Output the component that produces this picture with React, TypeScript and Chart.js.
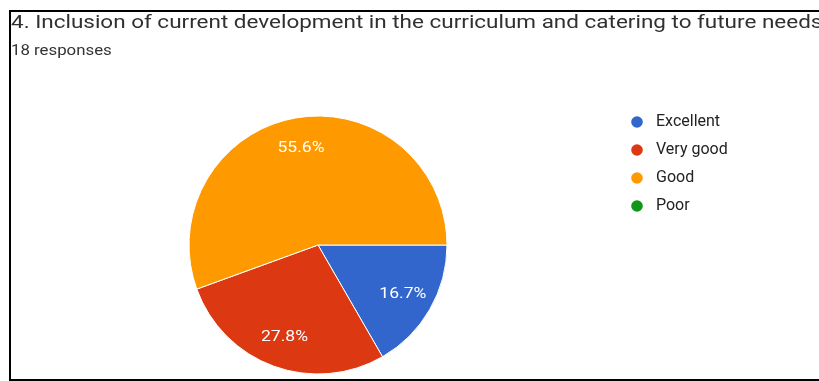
import React, { useEffect, useRef } from 'react';
import { Chart, registerables } from 'chart.js';

Chart.register(...registerables);

const titleText = '4. Inclusion of current development in the curriculum and catering to future needs';
const subtitleText = '18 responses';
const categories = ['Excellent', 'Very good', 'Good', 'Poor'];
const responses = [3, 5, 10, 0];
const sliceColors = ['#3366cc', '#dc3912', '#ff9900', '#109618'];

const CANVAS_W = 808;
const CANVAS_H = 376;
const LEGEND_FONT = 16;
const LEGEND_PAD = 12;
const LEGEND_BOX = 22;
const LEGEND_LEFT = 603;

function makeDot(color: string) {
  const c = document.createElement('canvas');
  c.width = 12;
  c.height = 12;
  const g = c.getContext('2d')!;
  g.fillStyle = color;
  g.beginPath();
  g.arc(6, 6, 5.8, 0, Math.PI * 2);
  g.fill();
  return c;
}

const pctLabels = {
  id: 'pctLabels',
  afterDatasetsDraw(chart: any) {
    const ctx = chart.ctx;
    const meta = chart.getDatasetMeta(0);
    const data = chart.data.datasets[0].data as number[];
    const total = data.reduce((a, b) => a + b, 0);
    meta.data.forEach((arc: any, i: number) => {
      const v = data[i];
      if (!v) return;
      const p = arc.getProps(['startAngle', 'endAngle', 'outerRadius', 'x', 'y'], true);
      const mid = (p.startAngle + p.endAngle) / 2;
      const r = p.outerRadius * 0.76;
      const lx = p.x + Math.cos(mid) * r;
      const ly = p.y + Math.sin(mid) * r;
      ctx.save();
      ctx.translate(lx, ly);
      ctx.scale(1.17, 1);
      ctx.font = '15px Roboto';
      ctx.fillStyle = '#ffffff';
      ctx.textAlign = 'center';
      ctx.textBaseline = 'middle';
      ctx.fillText((v / total * 100).toFixed(1) + '%', 0, 0);
      ctx.restore();
    });
  },
};

export default function App() {
  const ref = useRef<HTMLCanvasElement>(null);

  useEffect(() => {
    const dots = sliceColors.map(makeDot);
    const mctx = document.createElement('canvas').getContext('2d')!;
    mctx.font = `${LEGEND_FONT}px Roboto`;
    const textW = Math.max(...categories.map((c) => mctx.measureText(c).width));
    const legendW = LEGEND_PAD + LEGEND_BOX + LEGEND_FONT / 2 + textW + 10;
    const padRight = CANVAS_W - LEGEND_LEFT - legendW;

    const chart = new Chart(ref.current!, {
      type: 'pie',
      data: {
        labels: categories,
        datasets: [
          {
            data: responses,
            backgroundColor: sliceColors,
            borderColor: '#ffffff',
            borderWidth: 1,
            radius: 129,
          } as any,
        ],
      },
      options: {
        responsive: false,
        animation: false,
        rotation: 90,
        layout: { padding: { top: 90, left: 11, right: padRight, bottom: 0 } },
        plugins: {
          tooltip: { enabled: false },
          legend: {
            position: 'right',
            align: 'start',
            labels: {
              usePointStyle: true,
              pointStyleWidth: LEGEND_BOX,
              padding: LEGEND_PAD,
              color: '#222222',
              font: { family: 'Roboto', size: LEGEND_FONT },
              generateLabels: (c: any) => {
                const base = (Chart as any).overrides.pie.plugins.legend.labels.generateLabels(c);
                return base.map((it: any, i: number) => ({ ...it, pointStyle: dots[i] }));
              },
            },
          },
        },
      } as any,
      plugins: [pctLabels],
    });
    return () => chart.destroy();
  }, []);

  return (
    <div style={{ position: 'absolute', left: 0, top: 0, width: 819, height: 381, overflow: 'hidden', background: '#fff' }}>
      <div
        style={{
          position: 'absolute',
          left: 9,
          top: 10,
          width: 830,
          height: 367,
          border: '2px solid #000',
          overflow: 'hidden',
          background: '#fff',
        }}
      >
        <canvas ref={ref} width={CANVAS_W} height={CANVAS_H} style={{ position: 'absolute', left: 0, top: 0 }} />
        <div
          style={{
            position: 'absolute',
            left: 0,
            top: 1,
            fontFamily: 'Roboto',
            fontSize: 18.5,
            lineHeight: '19px',
            color: '#303030',
            whiteSpace: 'nowrap',
            transform: 'scaleX(1.215)',
            transformOrigin: '0 0',
          }}
        >
          {titleText}
        </div>
        <div
          style={{
            position: 'absolute',
            left: 0,
            top: 31,
            fontFamily: 'Roboto',
            fontSize: 14,
            lineHeight: '14px',
            color: '#333',
            whiteSpace: 'nowrap',
            transform: 'scaleX(1.2)',
            transformOrigin: '0 0',
          }}
        >
          {subtitleText}
        </div>
      </div>
    </div>
  );
}
